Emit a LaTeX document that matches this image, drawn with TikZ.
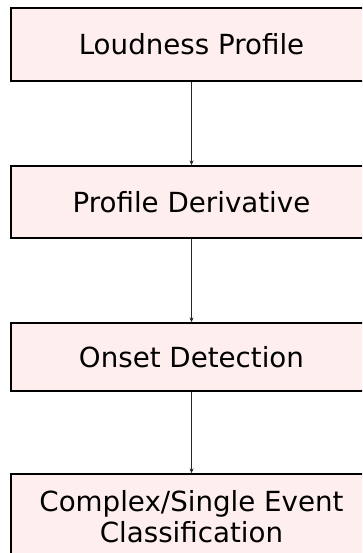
\documentclass[tikz,border=0pt]{standalone}
\usepackage{fontspec}
\setmainfont{DejaVu Sans}
\usetikzlibrary{arrows.meta}
\definecolor{boxfill}{RGB}{255,238,238}
\tikzset{
  stagebox/.style={draw=black, line width=1.3pt, fill=boxfill, minimum width=361pt,
    minimum height=73pt, inner sep=0pt, align=center,
    font=\fontsize{27.7pt}{31pt}\selectfont},
  flow/.style={draw=black!85, line width=0.7pt, -{Stealth[length=5pt,width=4pt]}}
}
\begin{document}
\begin{tikzpicture}[x=1pt,y=1pt]
  \useasboundingbox (0,0) rectangle (362,553);
  \clip (0,0) rectangle (362,553);
  \node[stagebox] (loud) at (191.5,508.5) {Loudness Profile};
  \node[stagebox, minimum height=72pt] (deriv) at (191.5,351) {Profile Derivative};
  \node[stagebox, minimum height=68pt] (onset) at (191.5,196) {Onset Detection};
  \node[stagebox, minimum height=86pt] (classif) at (191.5,36) {Complex/Single Event\\Classification};
  \draw[flow] (loud.south) -- (deriv.north);
  \draw[flow] (deriv.south) -- (onset.north);
  \draw[flow] (onset.south) -- (classif.north);
\end{tikzpicture}
\end{document}
